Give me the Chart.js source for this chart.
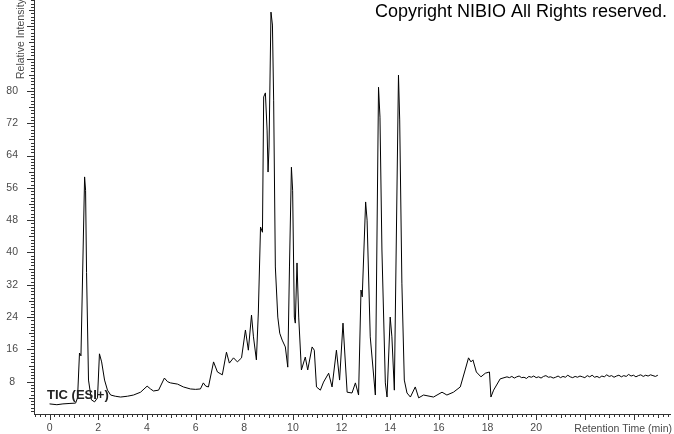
<!DOCTYPE html>
<html>
<head>
<meta charset="utf-8">
<script src="https://cdn.jsdelivr.net/npm/chart.js@4/dist/chart.umd.min.js"></script>
<style>
  html, body { margin: 0; padding: 0; background: #fff; }
  #box { width: 674px; height: 434px; }
</style>
</head>
<body>
<div id="box"><canvas id="grafico" width="674" height="434"></canvas></div>
<script>
const tempos = [
  0.00, 0.30, 0.55, 0.80, 1.07, 1.15, 1.23, 1.29, 1.44, 1.48, 1.52, 1.60, 1.72, 1.85, 1.97,
  2.05, 2.14, 2.26, 2.38, 2.51, 2.70, 2.92, 3.20, 3.45, 3.74, 4.01, 4.15, 4.27, 4.48, 4.72,
  4.85, 4.97, 5.26, 5.50, 5.79, 6.00, 6.20, 6.32, 6.42, 6.53, 6.74, 6.90, 7.10, 7.27, 7.39,
  7.56, 7.72, 7.89, 8.05, 8.17, 8.30, 8.38, 8.50, 8.58, 8.67, 8.75, 8.80, 8.87, 8.94, 8.98,
  9.02, 9.10, 9.16, 9.21, 9.28, 9.38, 9.46, 9.56, 9.69, 9.79, 9.86, 9.94, 9.99, 10.06, 10.10,
  10.17, 10.24, 10.35, 10.51, 10.61, 10.79, 10.88, 10.97, 11.13, 11.26, 11.47, 11.61, 11.79, 11.92, 12.06,
  12.23, 12.43, 12.57, 12.70, 12.80, 12.85, 12.99, 13.05, 13.18, 13.39, 13.52, 13.58, 13.66, 13.80, 13.87,
  14.00, 14.07, 14.17, 14.34, 14.39, 14.48, 14.58, 14.69, 14.83, 15.03, 15.17, 15.37, 15.78, 16.13, 16.33,
  16.60, 16.88, 17.08, 17.22, 17.32, 17.40, 17.54, 17.73, 17.91, 18.08, 18.14, 18.25, 18.52, 18.80,
  18.9, 19.0, 19.1, 19.2, 19.3, 19.4, 19.5, 19.6, 19.7, 19.8, 19.9, 20.0, 20.1, 20.2, 20.3, 20.4,
  20.5, 20.6, 20.7, 20.8, 20.9, 21.0, 21.1, 21.2, 21.3, 21.4, 21.5, 21.6, 21.7, 21.8, 21.9, 22.0,
  22.1, 22.2, 22.3, 22.4, 22.5, 22.6, 22.7, 22.8, 22.9, 23.0, 23.1, 23.2, 23.3, 23.4, 23.5, 23.6,
  23.7, 23.8, 23.9, 24.0, 24.1, 24.2, 24.3, 24.4, 24.5, 24.6, 24.7, 24.8, 24.9, 25.0
];

const intensidade = [
  2.5, 2.3, 2.5, 2.6, 2.7, 4.0, 15.1, 14.4, 58.7, 55.4, 35.0, 8.4, 3.5, 3.0, 4.0,
  14.9, 12.9, 8.4, 5.9, 4.7, 4.4, 4.2, 4.4, 4.7, 5.4, 6.9, 6.2, 5.7, 5.9, 8.9,
  8.0, 7.7, 7.4, 6.7, 6.2, 6.1, 6.2, 7.7, 6.9, 6.7, 12.9, 10.4, 9.7, 15.3, 12.6,
  13.9, 12.9, 13.9, 20.8, 15.8, 24.5, 19.1, 13.4, 25.0, 46.3, 45.0, 78.5, 79.5, 70.3, 59.9,
  66.1, 99.5, 96.3, 77.7, 36.4, 24.0, 20.0, 18.3, 16.6, 11.6, 36.4, 61.1, 55.4, 24.0, 22.5,
  37.4, 24.0, 10.9, 14.1, 10.9, 16.6, 15.8, 6.7, 5.9, 7.9, 10.1, 6.7, 15.8, 8.4, 22.5,
  5.4, 5.2, 7.7, 4.7, 30.7, 29.0, 52.5, 48.0, 19.1, 4.7, 80.9, 73.5, 40.6, 7.7, 4.2,
  24.0, 19.1, 5.9, 83.9, 72.8, 32.4, 8.4, 5.2, 4.2, 6.7, 4.0, 4.7, 4.2, 5.4, 4.7,
  5.4, 6.7, 10.9, 13.9, 12.9, 13.4, 10.4, 9.2, 10.1, 10.4, 4.2, 5.9, 8.7, 9.2,
  9.0, 9.3, 8.9, 9.2, 9.4, 9.0, 9.1, 8.8, 9.3, 9.1, 9.4, 9.0, 9.2, 8.9, 9.3, 9.5,
  9.1, 9.2, 8.9, 9.1, 9.4, 9.0, 9.3, 9.1, 9.6, 9.2, 9.0, 9.3, 9.1, 9.4, 9.2, 9.0,
  9.5, 9.2, 9.6, 9.1, 9.3, 9.0, 9.4, 9.2, 9.7, 9.3, 9.5, 9.1, 9.4, 9.6, 9.2, 9.5,
  9.3, 9.8, 9.4, 9.6, 9.2, 9.5, 9.7, 9.3, 9.6, 9.4, 9.7, 9.5, 9.3, 9.6
];

const ticksX = [0, 2, 4, 6, 8, 10, 12, 14, 16, 18, 20];
const ticksY = [8, 16, 24, 32, 40, 48, 56, 64, 72, 80];

const fonte = "'Liberation Sans', Arial, sans-serif";
const corTexto = "#4a4a4a";

// marcas pequenas dos eixos + textos fixos do relatorio
const extras = {
  id: "extras",
  afterDraw(chart) {
    const ctx = chart.ctx;
    const sx = chart.scales.x;
    const sy = chart.scales.y;
    const area = chart.chartArea;
    ctx.save();
    ctx.strokeStyle = "#333";
    ctx.lineWidth = 1;
    ctx.beginPath();
    for (let k = -3; k <= 127; k++) {
      const v = k * 0.2;
      const px = Math.round(sx.getPixelForValue(v)) + 0.5;
      if (px < area.left || px > area.right) continue;
      let len = 3;
      if (k % 10 === 0) len = 6;
      else if (k % 5 === 0) len = 4;
      ctx.moveTo(px, area.bottom);
      ctx.lineTo(px, area.bottom + len);
    }
    for (let k = 0; k <= 128; k++) {
      const v = k * 0.8;
      const py = Math.round(sy.getPixelForValue(v)) + 0.5;
      if (py < area.top || py > area.bottom) continue;
      let len = 3;
      if (k % 10 === 0) len = 7;
      else if (k % 5 === 0) len = 5;
      ctx.moveTo(area.left, py);
      ctx.lineTo(area.left - len, py);
    }
    ctx.stroke();

    ctx.fillStyle = "#000";
    ctx.font = "18px " + fonte;
    ctx.textAlign = "left";
    ctx.textBaseline = "alphabetic";
    ctx.fillText("Copyright NIBIO All Rights reserved.", 375, 17);

    ctx.fillStyle = "#222";
    ctx.font = "bold 13px " + fonte;
    ctx.fillText("TIC (ESI+)", 47, 399);

    ctx.fillStyle = corTexto;
    ctx.font = "10.5px " + fonte;
    ctx.textAlign = "right";
    ctx.fillText("Retention Time (min)", 672, 432);

    ctx.translate(23.5, 79);
    ctx.rotate(-Math.PI / 2);
    ctx.textAlign = "left";
    ctx.fillText("Relative Intensity", 0, 0);
    ctx.restore();
  }
};

new Chart(document.getElementById("grafico"), {
  type: "line",
  data: {
    datasets: [{
      data: tempos.map((t, i) => ({ x: t, y: intensidade[i] })),
      borderColor: "#000",
      borderWidth: 1,
      pointRadius: 0,
      tension: 0,
      fill: false
    }]
  },
  options: {
    responsive: false,
    animation: false,
    devicePixelRatio: 1,
    layout: { padding: { left: 0, right: 4, top: 0, bottom: 0 } },
    plugins: { legend: { display: false }, tooltip: { enabled: false } },
    scales: {
      x: {
        type: "linear",
        min: -0.64,
        max: 25.5,
        afterBuildTicks: s => { s.ticks = ticksX.map(v => ({ value: v })); },
        afterFit: s => { s.height = 20; s.paddingLeft = 0; s.paddingRight = 0; },
        grid: { display: true, drawOnChartArea: false, drawTicks: false },
        border: { display: true, color: "#333", width: 1 },
        ticks: {
          autoSkip: false,
          maxRotation: 0,
          padding: 8,
          color: corTexto,
          font: { family: fonte, size: 10.5 }
        }
      },
      y: {
        type: "linear",
        min: 0,
        max: 102.5,
        afterBuildTicks: s => { s.ticks = ticksY.map(v => ({ value: v })); },
        afterFit: s => { s.width = 34; s.paddingTop = 0; s.paddingBottom = 0; },
        grid: { display: true, drawOnChartArea: false, drawTicks: false },
        border: { display: true, color: "#333", width: 1 },
        ticks: {
          crossAlign: "center",
          padding: 16,
          color: corTexto,
          font: { family: fonte, size: 10.5 }
        }
      }
    }
  },
  plugins: [extras]
});
</script>
</body>
</html>
